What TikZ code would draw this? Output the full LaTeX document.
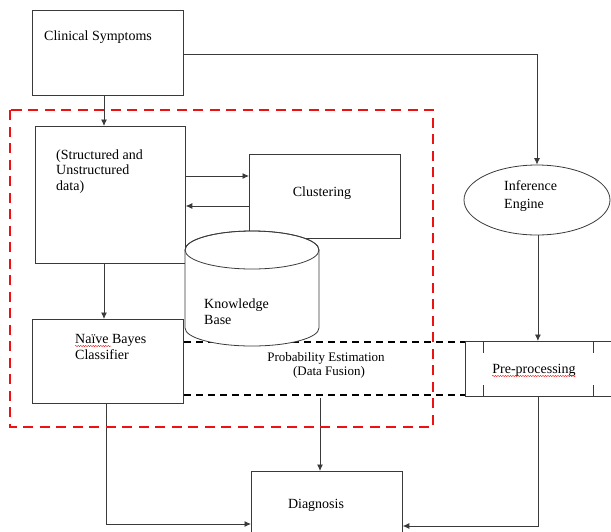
\documentclass[tikz,border=0pt]{standalone}
\usepackage{fontspec}
\setmainfont{Liberation Serif}
\usetikzlibrary{arrows.meta,decorations.pathmorphing,calc,shapes.geometric}
\definecolor{linegray}{HTML}{3A3A3A}
\definecolor{redline}{HTML}{EE1111}
\tikzset{
  box/.style={draw=linegray, line width=0.8pt, inner sep=0pt, anchor=north west, fill=white},
  txt/.style={font=\fontsize{14}{16}\selectfont, inner sep=0pt, anchor=base west},
  txtc/.style={font=\fontsize{14}{16}\selectfont, inner sep=0pt, anchor=base},
  small/.style={font=\fontsize{13}{15}\selectfont, inner sep=0pt, anchor=base},
  conn/.style={draw=linegray, line width=0.8pt},
  arr/.style={conn, -{Latex[length=6.5pt,width=6pt]}},
  blackdash/.style={draw=black, line width=1.6pt, dash pattern=on 7pt off 5pt},
  reddash/.style={draw=redline, line width=2.8pt, dash pattern=on 10pt off 6.5pt},
  squiggle/.style={draw=redline, line width=0.4pt, decorate, decoration={snake, amplitude=0.7pt, segment length=2.5pt}}
}
\begin{document}
\begin{tikzpicture}[x=1pt,y=-1pt]
\useasboundingbox (0,0) rectangle (611,531);

% helper coordinates
\coordinate (X104) at (104,0);
\coordinate (X106) at (106,0);
\coordinate (Y176) at (0,176);
\coordinate (Y206) at (0,206);
\coordinate (Y342) at (0,342);
\coordinate (Y395) at (0,395);
\coordinate (Y524) at (0,524);
\coordinate (Y526) at (0,526);
\coordinate (Y54) at (0,54);

% boxes
\node[box, minimum width=151pt, minimum height=85pt] (cs) at (32,10) {};
\node[box, minimum width=150pt, minimum height=137pt] (sd) at (35,126) {};
\node[box, minimum width=151pt, minimum height=84pt] (cl) at (249,154) {};
\node[box, minimum width=151pt, minimum height=84pt] (nb) at (32,319) {};
\node[draw=linegray, line width=0.8pt, ellipse, minimum width=146pt, minimum height=70pt, inner sep=0pt, fill=white] (ie) at (537,200) {};
\node[box, minimum width=146pt, minimum height=55pt] (pp) at (464.5,341) {};
\node[box, minimum width=151pt, minimum height=75pt] (dg) at (251,471) {};

% pre-processing inner bars
\draw[conn] ($(pp.north west)+(19,0)$) -- ++(0,12);
\draw[conn] ($(pp.south west)+(19,0)$) -- ++(0,-12);
\draw[conn] ($(pp.north east)+(-18,0)$) -- ++(0,12);
\draw[conn] ($(pp.south east)+(-18,0)$) -- ++(0,-12);

% texts
\node[txt] (t1) at (44,40) {Clinical Symptoms};
\node[txt] (t2a) at (56,159) {(Structured and};
\node[txt] (t2b) at (56,174.5) {Unstructured};
\node[txt] (t2c) at (56,190) {data)};
\node[txtc] (t3) at (322,196) {Clustering};
\node[txt] (t5a) at (75,343) {Naïve Bayes};
\node[txt] (t5b) at (75,359) {Classifier};
\node[small] (t6a) at (326,361) {Probability Estimation};
\node[small] (t6b) at (329,375) {(Data Fusion)};
\node[txt] (t7a) at (504,190) {Inference};
\node[txt] (t7b) at (504,208) {Engine};
\node[txtc] (t8) at (534,373) {Pre-processing};
\node[txtc] (t9) at (316,508) {Diagnosis};

% spell-check squiggles
\draw[squiggle] (t5a.base west |- 0,346) -- ++(36,0);
\draw[squiggle] (t8.base west |- 0,376) -- (t8.base east |- 0,376);

% connectors
\draw[arr] (cs.south -| X104) -- (sd.north -| X104);
\draw[arr] (cs.east |- Y54) -| (ie.north);
\draw[arr] (sd.east |- Y176) -- (cl.west |- Y176);
\draw[arr] (cl.west |- Y206) -- (sd.east |- Y206);
\draw[arr] (sd.south -| X104) -- (nb.north -| X104);
\draw[arr] (ie.south -| pp.north) -- (pp.north);
\coordinate (pf) at (320,398);
\draw[arr] (pf) -- (dg.north -| pf);
\draw[arr] (nb.south -| X106) |- (dg.west |- Y524);
\draw[arr] (pp.south) |- (dg.east |- Y526);

% dashed probability band
\draw[blackdash] (nb.east |- Y342) -- (pp.west |- Y342);
\draw[blackdash] (nb.east |- Y395) -- (pp.west |- Y395);

% knowledge base cylinder
\coordinate (kb) at (252,250);
\draw[conn, fill=white] (185,250) -- (185,328)
  arc[start angle=180, end angle=0, x radius=67, y radius=18]
  -- (319,250)
  arc[start angle=0, end angle=-180, x radius=67, y radius=19] -- cycle;
\draw[conn] (kb) ellipse [x radius=67, y radius=19];
\node[txt] (t4a) at (204,308) {Knowledge};
\node[txt] (t4b) at (204,324) {Base};

% red dashed region
\draw[reddash] (10,110) rectangle (433,427);
\end{tikzpicture}
\end{document}
